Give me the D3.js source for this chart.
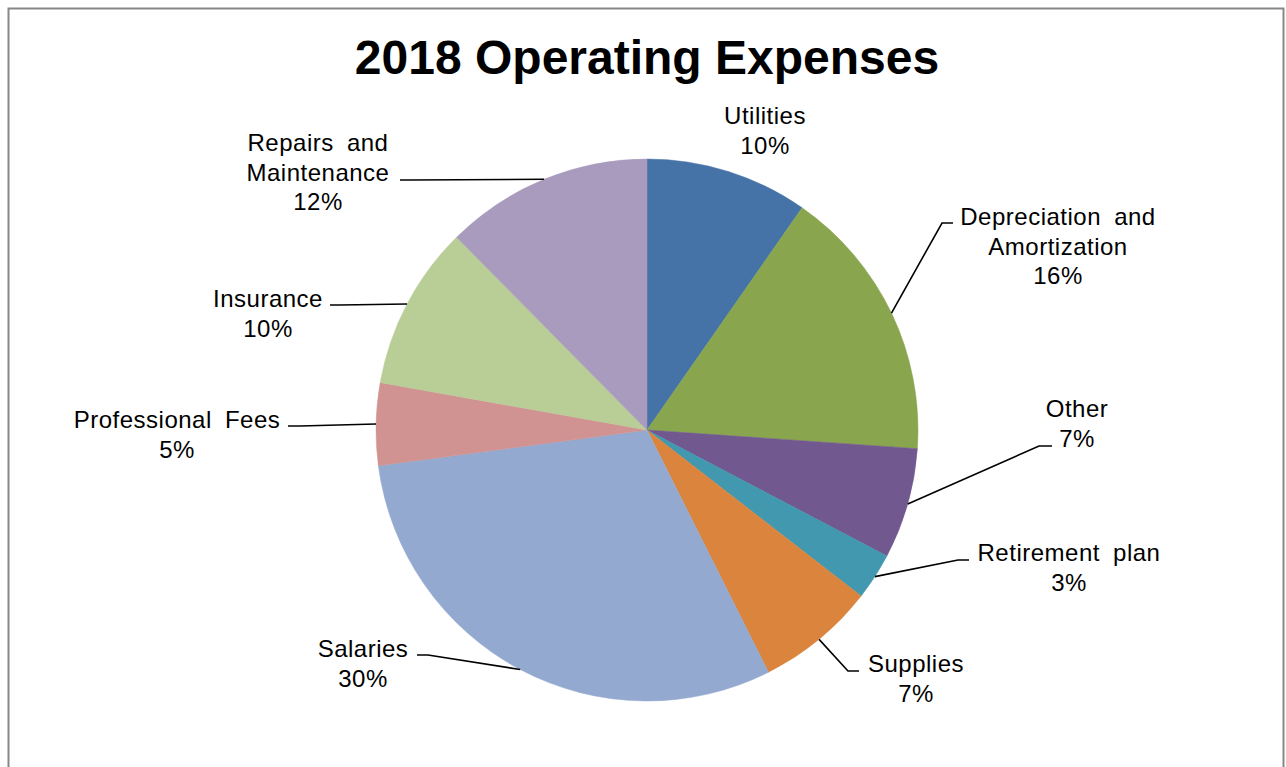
<!DOCTYPE html>
<html>

<head>
    <title>2018 Operating Expenses</title>
    <script src="https://d3js.org/d3.v7.min.js"></script>
    <style>
        body {
            margin: 0;
            background: #fff;
            font-family: "Liberation Sans", Arial, sans-serif;
        }

        .label {
            font-size: 24px;
            letter-spacing: 0.5px;
            word-spacing: 6px;
            fill: #000;
        }

        .leader {
            fill: none;
            stroke: #000;
            stroke-width: 1.6px;
        }
    </style>
</head>

<body>
    <div id="chart"></div>

    <script>
        // data, clockwise from 12 o'clock
        const categories = ["Utilities", "Depreciation and Amortization", "Other", "Retirement plan",
            "Supplies", "Salaries", "Professional Fees", "Insurance", "Repairs and Maintenance"];
        const shares = [9.7, 16.4, 6.6, 2.8, 7.1, 30.3, 4.9, 9.8, 12.4];
        const colors = ["#4572a7", "#89a54e", "#71588f", "#4198af", "#db843d",
            "#93a9cf", "#d19392", "#b9cd96", "#a99bbd"];

        // label layout: text centre, first baseline, elbow of the leader, end of the leader
        const labelLayout = [
            { lines: ["Utilities"], x: 765, y: 124 },
            { lines: ["Depreciation and", "Amortization"], x: 1058, y: 225, elbow: [942, 223], tail: [953, 223] },
            { lines: ["Other"], x: 1077, y: 417, elbow: [1039, 446], tail: [1052, 446] },
            { lines: ["Retirement plan"], x: 1069, y: 561, elbow: [958, 560], tail: [969, 560] },
            { lines: ["Supplies"], x: 916, y: 672, elbow: [848, 671], tail: [859, 671] },
            { lines: ["Salaries"], x: 363, y: 657, elbow: [428, 655], tail: [417, 655] },
            { lines: ["Professional Fees"], x: 177, y: 428, elbow: [300, 426], tail: [288, 426] },
            { lines: ["Insurance"], x: 268, y: 307, elbow: [340, 305], tail: [330, 305] },
            { lines: ["Repairs and", "Maintenance"], x: 318, y: 151, elbow: [410, 180], tail: [400, 180] }
        ];

        const width = 1286,
            height = 767;
        const cx = 647,
            cy = 430,
            radius = 271;
        const lineHeight = 29.5;

        const svg = d3.select("#chart").append("svg")
            .attr("width", width)
            .attr("height", height);

        // chart frame (bottom edge runs off the picture)
        svg.append("rect")
            .attr("x", 8.5)
            .attr("y", 8.5)
            .attr("width", 1275)
            .attr("height", 800)
            .attr("fill", "#fff")
            .attr("stroke", "#878787")
            .attr("stroke-width", 2);

        svg.append("text")
            .attr("x", cx)
            .attr("y", 74)
            .attr("text-anchor", "middle")
            .style("font-size", "48px")
            .style("font-weight", "bold")
            .text("2018 Operating Expenses");

        const data = categories.map((c, i) => ({ name: c, value: shares[i], color: colors[i] }));
        const total = d3.sum(shares);

        const pie = d3.pie().sort(null).value(d => d.value);
        const arcs = pie(data);

        const arc = d3.arc().innerRadius(0).outerRadius(radius);
        const edge = d3.arc().innerRadius(radius).outerRadius(radius);

        const g = svg.append("g").attr("transform", "translate(" + cx + "," + cy + ")");

        g.selectAll("path.slice")
            .data(arcs)
            .enter().append("path")
            .attr("class", "slice")
            .attr("d", arc)
            .attr("fill", d => d.data.color)
            .attr("stroke", d => d.data.color)
            .attr("stroke-width", 0.5);

        // leader lines: from the mid point of each slice's rim to the label
        arcs.forEach((a, i) => {
            const lay = labelLayout[i];
            if (!lay.elbow) return;
            const p = edge.centroid(a);
            const pts = [[cx + p[0], cy + p[1]], lay.elbow, lay.tail];
            svg.append("path")
                .attr("class", "leader")
                .attr("d", d3.line()(pts));
        });

        // labels
        arcs.forEach((a, i) => {
            const lay = labelLayout[i];
            const pct = Math.round(a.data.value / total * 100) + "%";
            const t = svg.append("text")
                .attr("class", "label")
                .attr("text-anchor", "middle");
            lay.lines.concat([pct]).forEach((line, k) => {
                t.append("tspan")
                    .attr("x", lay.x)
                    .attr("y", lay.y + k * lineHeight)
                    .text(line);
            });
        });
    </script>
</body>

</html>
